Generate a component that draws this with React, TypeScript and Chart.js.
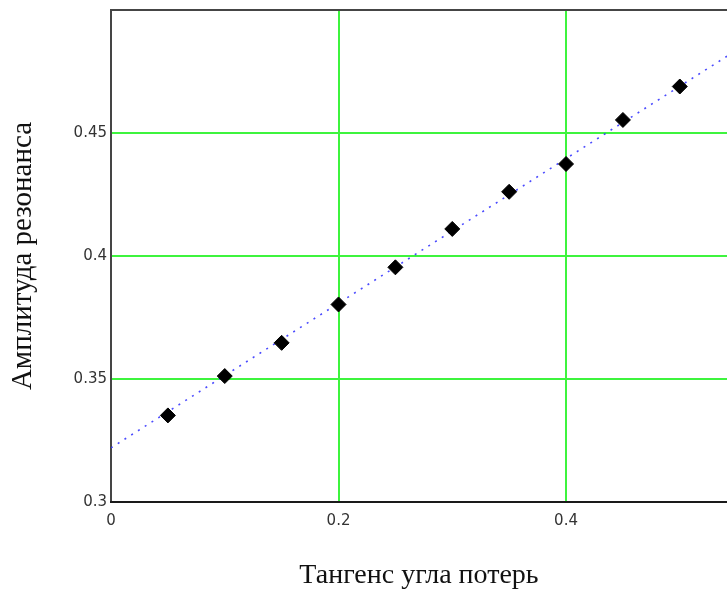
import React, { useEffect, useRef } from "react";
import { Chart, registerables } from "chart.js";

Chart.register(...registerables);

// Measured resonance amplitude versus loss tangent
const lossTangent = [0.05, 0.1, 0.15, 0.2, 0.25, 0.3, 0.35, 0.4, 0.45, 0.5];
const amplitude = [0.3352, 0.3512, 0.3647, 0.3803, 0.3954, 0.411, 0.4261, 0.4374, 0.4553, 0.4689];

// Linear trend line end points
const trendX = [0, 0.55];
const trendY = [0.322, 0.4837];

// Axis ranges and tick labels
const xRange = [0, 0.5415];
const yRange = [0.3, 0.5];
const xTicks = [0, 0.2, 0.4];
const yTicks = [0.3, 0.35, 0.4, 0.45];

const xTitle = "Тангенс угла потерь";
const yTitle = "Амплитуда резонанса";

const W = 727;
const H = 592;

// Plot frame: dark left/top edges and a black baseline
const framePlugin = {
  id: "plotFrame",
  beforeDatasetsDraw(chart: any) {
    const { ctx, chartArea } = chart;
    const { left, top, right, bottom } = chartArea;
    ctx.save();
    ctx.lineWidth = 2;
    ctx.strokeStyle = "#454545";
    ctx.beginPath();
    ctx.moveTo(left, bottom);
    ctx.lineTo(left, top);
    ctx.lineTo(right + 2, top);
    ctx.stroke();
    ctx.strokeStyle = "#1a1a1a";
    ctx.beginPath();
    ctx.moveTo(left - 1, bottom);
    ctx.lineTo(right + 2, bottom);
    ctx.stroke();
    ctx.restore();
  },
};

const fmt = (v: number) => String(Number(v.toFixed(2)));

export default function App() {
  const canvasRef = useRef<HTMLCanvasElement | null>(null);

  useEffect(() => {
    if (!canvasRef.current) return;
    const gridColor = (edge: number) => (c: any) =>
      c.tick && Math.abs(c.tick.value - edge) < 1e-9 ? "rgba(0,0,0,0)" : "#3ef43e";

    const chart = new Chart(canvasRef.current, {
      type: "scatter",
      data: {
        datasets: [
          {
            label: "Амплитуда",
            data: lossTangent.map((x, i) => ({ x, y: amplitude[i] })),
            pointStyle: "rectRot",
            pointRadius: 7.5,
            pointBackgroundColor: "#000",
            pointBorderColor: "#000",
            pointBorderWidth: 1,
            showLine: false,
            order: 0,
          },
          {
            label: "Тренд",
            data: trendX.map((x, i) => ({ x, y: trendY[i] })),
            showLine: true,
            borderColor: "rgba(55,55,255,0.9)",
            borderWidth: 1.6,
            borderDash: [2, 6],
            pointRadius: 0,
            order: 1,
          },
        ],
      },
      options: {
        responsive: false,
        animation: false,
        layout: { autoPadding: false, padding: { top: 10, right: 0, left: 0, bottom: 0 } },
        plugins: {
          legend: { display: false },
          tooltip: { enabled: false },
        },
        scales: {
          x: {
            type: "linear",
            min: xRange[0],
            max: xRange[1],
            afterBuildTicks: (s: any) => {
              s.ticks = xTicks.map((value) => ({ value }));
            },
            afterFit: (s: any) => {
              s.height = H - 502;
              s.paddingLeft = 0;
              s.paddingRight = 0;
            },
            border: { display: false },
            grid: { color: gridColor(0), lineWidth: 2, drawTicks: false, tickLength: 0 },
            ticks: {
              padding: 10,
              color: "#333",
              font: { family: "DejaVu Sans", size: 15 },
              callback: (v: any) => fmt(Number(v)),
            },
            title: {
              display: true,
              text: xTitle,
              color: "#111",
              font: { family: "Liberation Serif", size: 28 },
              padding: { top: 0, bottom: 0 },
            },
          },
          y: {
            type: "linear",
            min: yRange[0],
            max: yRange[1],
            afterBuildTicks: (s: any) => {
              s.ticks = yTicks.map((value) => ({ value }));
            },
            afterFit: (s: any) => {
              s.width = 111;
              s.paddingTop = 0;
              s.paddingBottom = 0;
            },
            border: { display: false },
            grid: { color: gridColor(0.3), lineWidth: 2, drawTicks: false, tickLength: 0 },
            ticks: {
              padding: 4,
              color: "#333",
              font: { family: "DejaVu Sans", size: 15 },
              callback: (v: any) => fmt(Number(v)),
            },
            title: {
              display: true,
              text: yTitle,
              color: "#111",
              font: { family: "Liberation Serif", size: 29 },
              padding: { top: 6, bottom: 0 },
            },
          },
        },
      },
      plugins: [framePlugin],
    });
    return () => chart.destroy();
  }, []);

  return (
    <div
      style={{
        position: "absolute",
        left: 0,
        top: 0,
        width: W,
        height: H,
        overflow: "hidden",
        background: "#fff",
      }}
    >
      <canvas ref={canvasRef} width={W} height={H} style={{ width: W, height: H, display: "block" }} />
    </div>
  );
}
